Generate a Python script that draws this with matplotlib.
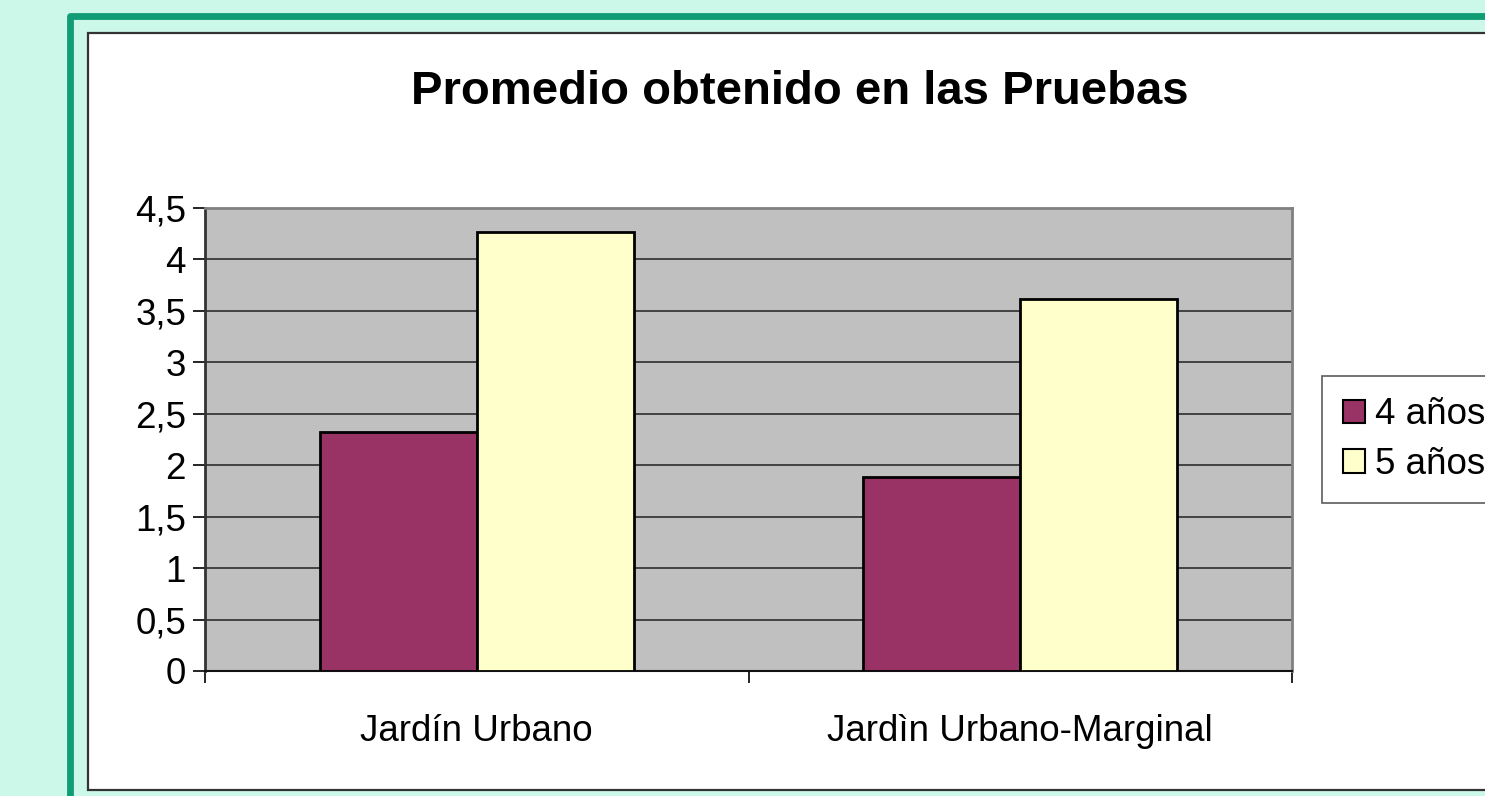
import matplotlib.pyplot as plt
from matplotlib.patches import Rectangle, Patch

plt.rcParams['font.family'] = ['Liberation Sans', 'DejaVu Sans']

categories = ["Jardín Urbano", "Jardìn Urbano-Marginal"]
series_names = ["4 años", "5 años"]
values_4 = [2.32, 1.89]
values_5 = [4.27, 3.62]
colors = ["#993366", "#FFFFCC"]
yticks = [0, 0.5, 1, 1.5, 2, 2.5, 3, 3.5, 4, 4.5]
ytick_labels = ["0", "0,5", "1", "1,5", "2", "2,5", "3", "3,5", "4", "4,5"]

W, H = 1485, 796
fig = plt.figure(figsize=(W / 100, H / 100), dpi=100)
fig.patch.set_facecolor("#CCF8EA")

# green frame and white chart box
fig.patches.append(Rectangle((70 / W, -0.1), 1.2, 1 - 16 / H + 0.1, transform=fig.transFigure,
                             facecolor="none", edgecolor="#109C74", linewidth=4.9,
                             joinstyle="round", zorder=0))
fig.patches.append(Rectangle((88 / W, 1 - 790 / H), 1.2, (790 - 33) / H, transform=fig.transFigure,
                             facecolor="white", edgecolor="#333333", linewidth=1.6, zorder=1))

ax = fig.add_axes([205 / W, 1 - 671 / H, (1292 - 205) / W, (671 - 208) / H])
ax.set_zorder(3)
ax.set_facecolor("#C0C0C0")

w = 0.289
x = range(len(categories))
ax.bar([i - w / 2 for i in x], values_4, w, color=colors[0], edgecolor="black", linewidth=2, zorder=3)
ax.bar([i + w / 2 for i in x], values_5, w, color=colors[1], edgecolor="black", linewidth=2, zorder=3)

ax.set_xlim(-0.5, 1.5)
ax.set_ylim(0, 4.5)
ax.set_yticks(yticks)
ax.set_yticklabels(ytick_labels, fontsize=26.5)
for y in yticks[1:]:
    ax.axhline(y, color="#222222", linewidth=1.1, zorder=1)

ax.set_xticks([-0.5, 0.5, 1.5])
ax.set_xticklabels([])
ax.set_xticks(list(x), minor=True)
ax.set_xticklabels(categories, minor=True, fontsize=26.5)
ax.tick_params(axis="x", which="minor", length=0, pad=31)
ax.tick_params(axis="x", which="major", length=8.6, width=1.2, direction="out")
ax.tick_params(axis="y", length=8.6, width=1.2, direction="out", pad=5)

for s in ["top", "right"]:
    ax.spines[s].set_color("#808080")
    ax.spines[s].set_linewidth(2)
ax.spines["left"].set_color("#333333")
ax.spines["left"].set_linewidth(2)
ax.spines["bottom"].set_color("#111111")
ax.spines["bottom"].set_linewidth(1.5)

fig.text(800 / W, 1 - 92 / H, "Promedio obtenido en las Pruebas", fontsize=34,
         fontweight="bold", ha="center", va="center")

handles = [Patch(facecolor=c, edgecolor="black", linewidth=1.5) for c in colors]
leg = fig.legend(handles, series_names, loc="upper left", bbox_to_anchor=(1322 / W, 1 - 376 / H),
                 fontsize=26.5, frameon=True, fancybox=False, handlelength=0.6, handleheight=0.6,
                 handletextpad=0.27, labelspacing=0.4, borderpad=0.58, borderaxespad=0)
leg.get_frame().set_edgecolor("#333333")
leg.get_frame().set_linewidth(1.2)
leg.set_zorder(4)

fig.savefig("out.png", dpi=100, facecolor=fig.get_facecolor())
